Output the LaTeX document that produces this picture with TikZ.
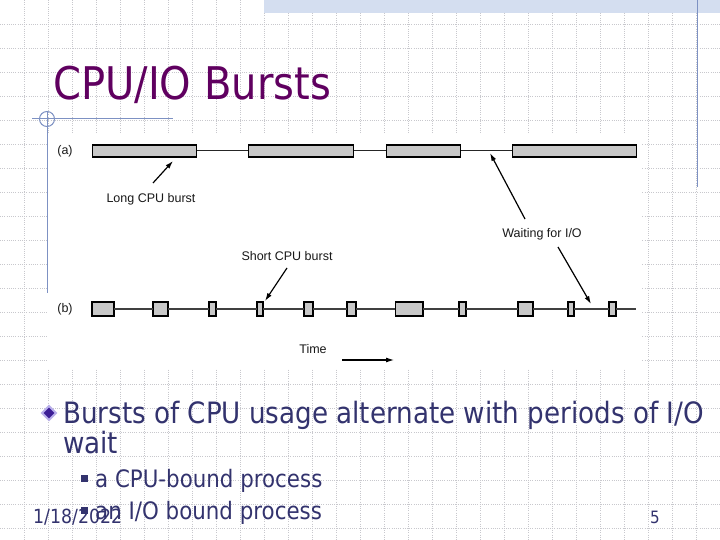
\documentclass[tikz,border=0pt]{standalone}
\usepackage{fontspec}
\usetikzlibrary{arrows.meta,shapes.geometric}
\newfontfamily\tahoma{DejaVu Sans}[FakeStretch=0.89]
\newfontfamily\arialf{Liberation Sans}
\definecolor{gridcol}{RGB}{200,200,205}
\definecolor{bandcol}{RGB}{212,222,240}
\definecolor{bluecol}{RGB}{125,145,195}
\definecolor{titlecol}{RGB}{96,0,96}
\definecolor{bodycol}{RGB}{51,51,110}
\definecolor{barfill}{RGB}{200,200,200}
\definecolor{lavender}{RGB}{185,175,235}
\definecolor{diamcol}{RGB}{60,30,150}
\newcommand\cpuburst[5]{\node[burstbox, minimum width={#3-#2}, minimum height=#5] (#1) at ({(#2+#3)/2},#4) {};}
\begin{document}
\begin{tikzpicture}[x=1bp,y=-1bp,
  gridline/.style={gridcol, line width=0.6bp, dash pattern=on 1bp off 1.2bp},
  blueline/.style={bluecol, line width=1bp},
  burstbox/.style={draw=black, fill=barfill, line width=1.1bp, inner sep=0, outer sep=0},
  timeline/.style={draw=black!85, line width=1bp},
  figlabel/.style={font=\arialf\fontsize{12.5bp}{14bp}\selectfont, text=black!90, inner sep=0},
  figarrow/.style={draw=black, line width=1.2bp, -{Latex[length=8bp,width=5bp]}},
  bodytext/.style={anchor=base west, inner sep=0, text=bodycol},
]
\useasboundingbox (0,0) rectangle (720,540);
\fill[white] (0,0) rectangle (720,540);
% background grid
\foreach \gx in {24,48,...,696} \draw[gridline] (\gx,0) -- (\gx,540);
\foreach \gy in {24,48,...,528} \draw[gridline] (0,\gy) -- (720,\gy);
% top band
\fill[bandcol] (264,0) rectangle (720,13);
% figure background
\fill[white] (47,134) rectangle (642,369);
% decorative blue lines
\draw[blueline] (32,119) -- (173,119);
\draw[blueline] (47,119) circle [radius=7.5bp];
\draw[blueline] (47,112) -- (47,293);
\draw[blueline] (697,0) -- (697,187);
% title
\node[anchor=base west, inner sep=0, text=titlecol, font=\tahoma\fontsize{45bp}{50bp}\selectfont] (title) at (53,100) {CPU/IO Bursts};
% row (a)
\node[figlabel] (la) at (65,151) {(a)};
\cpuburst{a1}{92}{197}{151}{12}
\cpuburst{a2}{248}{354}{151}{12}
\cpuburst{a3}{386}{461}{151}{12}
\cpuburst{a4}{512}{637}{151}{12}
\draw[timeline] (a1.east) -- (a2.west);
\draw[timeline] (a2.east) -- (a3.west);
\draw[timeline] (a3.east) -- (a4.west);
% row (b)
\node[figlabel] (lb) at (65,309) {(b)};
\cpuburst{b1}{92}{114}{309}{14}
\cpuburst{b2}{153}{168}{309}{14}
\cpuburst{b3}{209}{216}{309}{14}
\cpuburst{b4}{257}{263}{309}{14}
\cpuburst{b5}{304}{313}{309}{14}
\cpuburst{b6}{347}{356}{309}{14}
\cpuburst{b7}{395}{423}{309}{14}
\cpuburst{b8}{459}{466}{309}{14}
\cpuburst{b9}{518}{533}{309}{14}
\cpuburst{b10}{568}{574}{309}{14}
\cpuburst{b11}{609}{616}{309}{14}
\coordinate (bend) at (636,309);
\foreach \p/\q in {b1/b2,b2/b3,b3/b4,b4/b5,b5/b6,b6/b7,b7/b8,b8/b9,b9/b10,b10/b11}
  \draw[timeline, line width=1.3bp, draw=black!75] (\p.east) -- (\q.west);
\draw[timeline, line width=1.3bp, draw=black!75] (b11.east) -- (bend);
% labels and arrows
\node[figlabel] (llong) at (151,199) {Long CPU burst};
\coordinate (longs) at (153,183);
\coordinate (longe) at (173,161);
\draw[figarrow] (longs) -- (longe);
\node[figlabel] (lwait) at (542,234) {Waiting for I/O};
\coordinate (waits) at (525,219);
\coordinate (waite) at (490,153);
\draw[figarrow] (waits) -- (waite);
\coordinate (waitt) at (558,247);
\coordinate (waitb) at (591,304);
\draw[figarrow] (waitt) -- (waitb);
\node[figlabel] (lshort) at (287,256) {Short CPU burst};
\coordinate (shorts) at (287,268);
\coordinate (shorte) at (265,301);
\draw[figarrow] (shorts) -- (shorte);
\node[figlabel] (ltime) at (313,349) {Time};
\coordinate (times) at (342,360);
\coordinate (timee) at (394,360);
\draw[figarrow, line width=1.1bp] (times) -- (timee);
% bullet text
\node[diamond, fill=lavender, inner sep=0, minimum width=17bp, minimum height=17bp] (dia) at (49,413) {};
\node[diamond, fill=diamcol, inner sep=0, minimum width=11bp, minimum height=11bp] (diain) at (49,413) {};
\node[bodytext, font=\tahoma\fontsize{29.4bp}{32bp}\selectfont] (b1t) at (63,423) {Bursts of CPU usage alternate with periods of I/O};
\node[bodytext, font=\tahoma\fontsize{29.4bp}{32bp}\selectfont] (b2t) at (63,453) {wait};
\node[fill=bodycol, inner sep=0, minimum size=7bp] (sq1) at (84,478) {};
\node[fill=bodycol, inner sep=0, minimum size=7bp] (sq2) at (84,510) {};
\node[bodytext, font=\tahoma\fontsize{24bp}{28bp}\selectfont] (s1t) at (95,487) {a CPU-bound process};
\node[bodytext, font=\tahoma\fontsize{24bp}{28bp}\selectfont] (s2t) at (95,519) {an I/O bound process};
\node[bodytext, font=\tahoma\fontsize{19.5bp}{22bp}\selectfont] (date) at (33,523) {1/18/2022};
\node[anchor=base east, inner sep=0, text=bodycol, font=\tahoma\fontsize{17bp}{20bp}\selectfont] (pnum) at (660,523) {5};
\end{tikzpicture}
\end{document}
